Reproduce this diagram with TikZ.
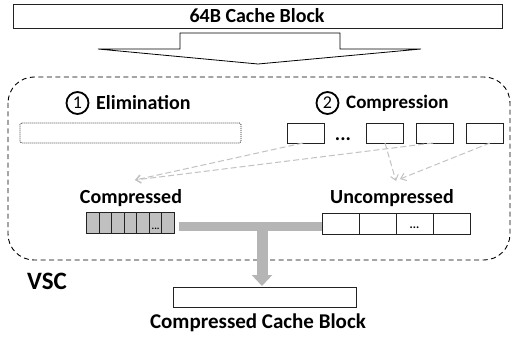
\documentclass[tikz,border=0pt]{standalone}
\usepackage{fontspec}
\setmainfont{Carlito}
\usetikzlibrary{arrows.meta}
\definecolor{tgray}{HTML}{B5B5B5}
\definecolor{dgray}{HTML}{C2C2C2}
\definecolor{cgray}{HTML}{C0C0C0}
\definecolor{edge}{HTML}{222222}
\begin{document}
\begin{tikzpicture}[x=1pt,y=-1pt,
  lbl/.style={font=\fontsize{20}{20}\selectfont\bfseries, inner sep=0pt},
  box/.style={draw=edge, line width=0.9pt, inner sep=0pt},
  cbox/.style={box, minimum width=37pt, minimum height=20pt},
  ccell/.style={draw=edge, line width=0.9pt, fill=cgray, inner sep=0pt, minimum width=12.57pt, minimum height=21pt},
  ucell/.style={draw=edge, line width=0.9pt, fill=white, inner sep=0pt, minimum width=37pt, minimum height=21pt},
  num/.style={circle, draw=black, line width=1.8pt, inner sep=0pt, minimum size=22pt, font=\fontsize{18}{18}\selectfont},
  dconn/.style={dgray, line width=1pt, dash pattern=on 6pt off 3pt, -{Straight Barb[length=5pt,width=8pt]}},
  tconn/.style={tgray, line width=9.5pt}
]
\useasboundingbox (0,0) rectangle (512,337);
% top block
\node[box, minimum width=489pt, minimum height=24pt] (top) at (257.5,16) {};
\node[lbl] (toplbl) at (257,16) {64B Cache Block};
% big block arrow
\draw[line width=0.8pt, fill=white] (180,33) -- (340,33) -- (340,49) -- (421,49) -- (258,64) -- (98,49) -- (180,49) -- cycle;
% dashed VSC region
\draw[line width=0.9pt, dash pattern=on 5pt off 3.5pt, rounded corners=26pt] (8,77) rectangle (510,260);
% headings
\node[num] (n1) at (77.5,103) {1};
\node[lbl, anchor=west] (elim) at (96,103) {Elimination};
\node[num] (n2) at (327.5,103) {2};
\node[lbl, font=\fontsize{19}{19}\selectfont\bfseries, anchor=west] (comp) at (346,103) {Compression};
% elimination box
\node[draw=edge, line width=0.8pt, dash pattern=on 1pt off 1pt, rounded corners=1.5pt, minimum width=221pt, minimum height=20pt, inner sep=0pt] (elbox) at (130.5,133) {};
% compression boxes
\node[cbox] (c1) at (305.5,133) {};
\node[lbl, anchor=base] (cdots) at (343,141) {...};
\node[cbox] (c2) at (384.5,133) {};
\node[cbox] (c3) at (434.5,133) {};
\node[cbox] (c4) at (484.5,133) {};
% labels
\node[lbl] (cl) at (131,198) {Compressed};
\node[lbl] (ul) at (392,198) {Uncompressed};
% compressed cells
\foreach \i in {0,...,6} {
  \node[ccell] (k\i) at ({86.5+6.285+12.57*\i},223) {};
}
\node[font=\fontsize{10}{10}\selectfont\bfseries, anchor=base, inner sep=0pt] (kdots) at (k5.center) [yshift=-6pt] {...};
% uncompressed cells
\foreach \i in {0,...,3} {
  \node[ucell] (u\i) at ({322+18.5+37*\i},223.5) {};
}
\node[font=\fontsize{12}{12}\selectfont\bfseries, anchor=base, inner sep=0pt] (udots) at (u2.center) [yshift=-5pt] {...};
% coordinates for connectors
\coordinate (s1) at (303,143);
\coordinate (s2) at (385,143);
\coordinate (s3) at (433,143);
\coordinate (s4) at (490,143);
\coordinate (e1) at (135,180);
\coordinate (e2) at (396,181);
\coordinate (e3) at (400,179);
\draw[dconn] (s1) -- (e1);
\draw[dconn] (s3) -- (e1);
\draw[dconn] (s2) -- (e2);
\draw[dconn] (s4) -- (e3);
% bottom box
\node[box, minimum width=183pt, minimum height=20pt] (bot) at (264.5,297) {};
\node[font=\fontsize{21}{21}\selectfont\bfseries, inner sep=0pt] (botlbl) at (258,323) {Compressed Cache Block};
% T connector
\coordinate (tl) at (179,226.5);
\coordinate (tr) at (322,226.5);
\coordinate (tj) at (262,226.5);
\coordinate (tip) at (262,286);
\draw[tconn] (tl) -- (tr);
\draw[tgray, line width=11pt, -{Triangle[width=20pt,length=11pt]}] (tj) -- (tip);
% VSC
\node[font=\fontsize{25}{25}\selectfont\bfseries, anchor=west, inner sep=0pt] (vsc) at (27,281) {VSC};
\end{tikzpicture}
\end{document}
